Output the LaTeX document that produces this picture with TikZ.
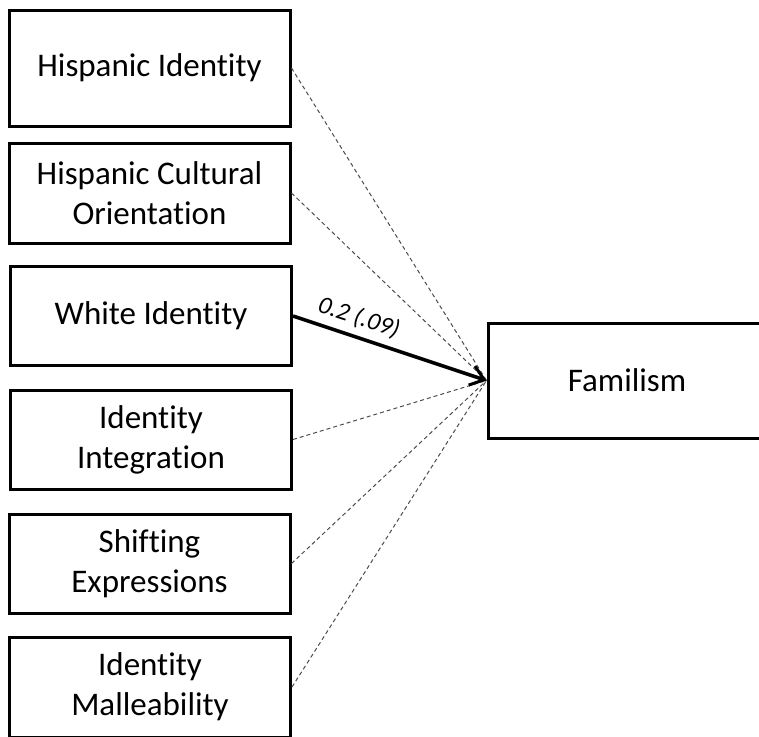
\documentclass[tikz,border=0pt]{standalone}
\usepackage{fontspec}
\setmainfont{Carlito}[Ligatures=NoCommon]
\usetikzlibrary{arrows.meta}

\begin{document}
\begin{tikzpicture}[
    x=1pt, y=-1pt,
    predictor/.style={rectangle, draw, line width=3pt, minimum width=281pt, minimum height=99pt, align=center, font=\fontsize{33}{40}\selectfont},
    outcome/.style={rectangle, draw, line width=3pt, minimum width=278pt, minimum height=115pt, font=\fontsize{33}{40}\selectfont},
    nspath/.style={draw=black!70, line width=1pt, dash pattern=on 4pt off 3pt},
    sigpath/.style={line width=3.5pt, -{Straight Barb[length=13pt, width=20pt, line width=3pt]}}
]
    \path[use as bounding box, clip] (0,0) rectangle (759,736);

    % Predictors (left column)
    \node[predictor, minimum height=116pt] (hispid) at (149.5, 68) {Hispanic Identity};
    \node[predictor, minimum height=100pt] (hispcult) at (149.5, 193) {Hispanic Cultural\\Orientation};
    \node[predictor] (whiteid) at (151, 316) {White Identity};
    \node[predictor] (idinteg) at (151, 439.5) {Identity\\Integration};
    \node[predictor] (shiftexp) at (149.5, 563.5) {Shifting\\Expressions};
    \node[predictor, minimum height=100pt] (idmall) at (150, 687) {Identity\\Malleability};

    % Outcome
    \node[outcome] (familism) at (627, 380.5) {Familism};

    % Non-significant paths
    \draw[nspath] (hispid.east) -- (familism.west);
    \draw[nspath] (hispcult.east) -- (familism.west);
    \draw[nspath] (idinteg.east) -- (familism.west);
    \draw[nspath] (shiftexp.east) -- (familism.west);
    \draw[nspath] (idmall.east) -- (familism.west);

    % Significant path
    \draw[sigpath] (whiteid.east) -- (familism.west)
        node[pos=0.31, sloped, above=3pt, font=\fontsize{25}{30}\selectfont\itshape] (coef) {0.2 (.09)};

\end{tikzpicture}
\end{document}
